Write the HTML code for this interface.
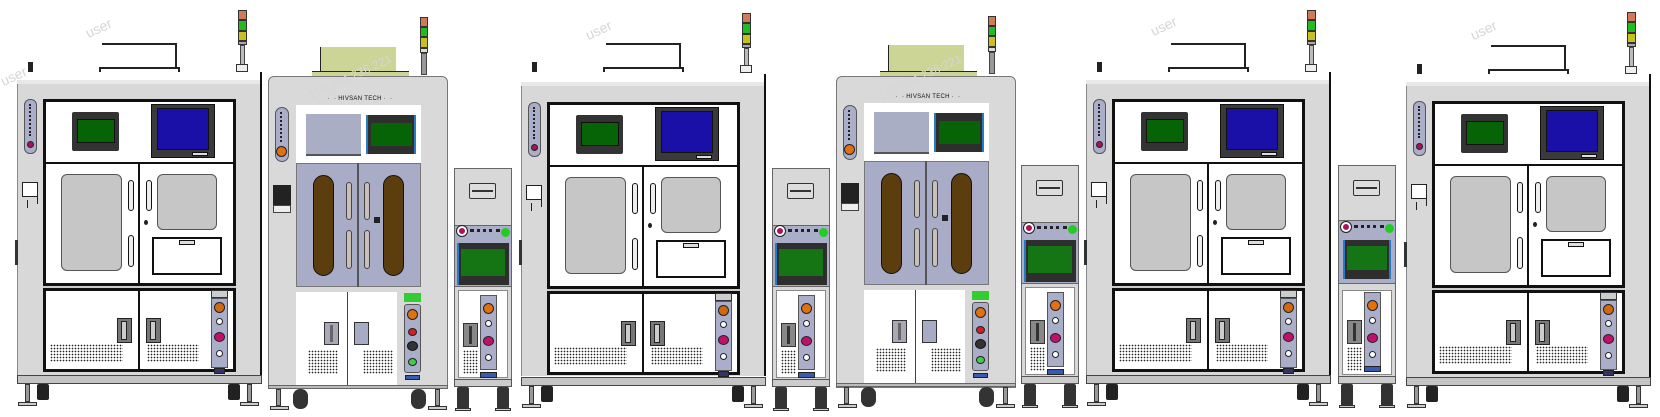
<!DOCTYPE html>
<html><head><meta charset="utf-8">
<style>
*{margin:0;padding:0;box-sizing:border-box}
body{width:1660px;height:417px;background:#fff;position:relative;overflow:hidden;font-family:"Liberation Sans",sans-serif}
.u{position:absolute;top:0;left:0;width:0;height:417px}
.u div{position:absolute}
.bk{border:1px solid #222}
.lav{background:#aaaec8;border:1px solid #555}
.vent{background-image:radial-gradient(#222 0.7px,transparent 0.9px);background-size:3px 3px}
.foot{width:4px;background:#999;border:1px solid #333}
.plate{height:4px;background:#ccc;border:1px solid #333}
.cast{background:#222;border-radius:2px}
.wm{position:absolute;color:#d6d6d6;font-size:14px;transform:rotate(-25deg);white-space:nowrap}
</style></head><body>

<!-- ========== A TEMPLATE (repeated) ========== -->
<div class="u" style="left:17px">
 <div style="left:85px;top:43px;width:75px;height:1.5px;background:#222"></div>
 <div style="left:158px;top:43px;width:1.5px;height:25px;background:#222"></div>
 <div style="left:82px;top:67px;width:80px;height:1.5px;background:#222"></div>
 <div style="left:82px;top:67px;width:1.5px;height:5px;background:#222"></div>
 <div style="left:161px;top:67px;width:1.5px;height:5px;background:#222"></div>
 <div style="left:11px;top:62px;width:5px;height:10px;background:#222"></div>
 <div style="left:221px;top:10px;width:9px;height:10px;background:#d07a5a;border:1px solid #333"></div>
 <div style="left:221px;top:20px;width:9px;height:11px;background:#22bb22;border:1px solid #333"></div>
 <div style="left:221px;top:31px;width:9px;height:10px;background:#c8c020;border:1px solid #333"></div>
 <div style="left:221px;top:41px;width:9px;height:4px;background:#aaa;border:1px solid #333"></div>
 <div style="left:223px;top:45px;width:5px;height:20px;background:#bbb;border:1px solid #444"></div>
 <div style="left:219px;top:64px;width:12px;height:8px;background:#eee;border:1px solid #333"></div>
 <div style="left:0;top:80px;width:244px;height:296px;background:#d8d8d8;border-left:1px solid #888"></div>
 <div style="left:0;top:80px;width:244px;height:4px;background:#e8e8e8"></div>
 <div style="left:243px;top:72px;width:2px;height:304px;background:#111"></div>
 <div style="left:-2px;top:240px;width:3px;height:25px;background:#333"></div>
 <div style="left:7px;top:99px;width:13px;height:55px;border-radius:6px" class="lav"></div>
 <div style="left:10px;top:141px;width:7px;height:7px;border-radius:50%;background:#b0105a;border:1px solid #222"></div>
 <div style="left:12px;top:104px;width:3px;height:32px;border-left:2px dotted #222"></div>
 <div style="left:5px;top:182px;width:16px;height:15px;background:#fff;border:1px solid #222"></div>
 <div style="left:20px;top:190px;width:1px;height:14px;background:#222"></div>
 <div style="left:10px;top:200px;width:1px;height:8px;background:#222"></div>
 <div style="left:26px;top:99px;width:193px;height:273px;background:#fff;border:3px solid #111"></div>
 <div style="left:26px;top:162px;width:193px;height:2px;background:#111"></div>
 <div style="left:26px;top:283px;width:193px;height:8px;background:#ccc;border-top:3px solid #111;border-bottom:3px solid #111"></div>
 <div style="left:121px;top:162px;width:2px;height:122px;background:#111"></div>
 <div style="left:121px;top:290px;width:2px;height:82px;background:#111"></div>
 <div style="left:55px;top:112px;width:47px;height:39px;background:#333;border-radius:2px"></div>
 <div style="left:60px;top:119px;width:38px;height:24px;background:#066406;border:1px solid #111"></div>
 <div style="left:134px;top:104px;width:64px;height:54px;background:#3a3a3a;border:1px solid #111"></div>
 <div style="left:140px;top:108px;width:52px;height:42px;background:#1a10a8;border:1px solid #111"></div>
 <div style="left:175px;top:152px;width:16px;height:4px;background:#ddd;border:1px solid #111"></div>
 <div style="left:44px;top:174px;width:61px;height:97px;background:#c6c6c6;border:1px solid #555;border-radius:6px"></div>
 <div style="left:140px;top:174px;width:60px;height:56px;background:#c6c6c6;border:1px solid #555;border-radius:6px"></div>
 <div style="left:135px;top:237px;width:70px;height:38px;background:#fff;border:2px solid #111"></div>
 <div style="left:162px;top:240px;width:16px;height:5px;background:#ddd;border:1px solid #111"></div>
 <div style="left:111px;top:180px;width:6px;height:31px;background:#eee;border:1px solid #111;border-radius:3px"></div>
 <div style="left:111px;top:235px;width:6px;height:32px;background:#eee;border:1px solid #111;border-radius:3px"></div>
 <div style="left:129px;top:180px;width:6px;height:31px;background:#eee;border:1px solid #111;border-radius:3px"></div>
 <div style="left:127px;top:220px;width:4px;height:5px;background:#222;border-radius:50%"></div>
 <div style="left:100px;top:318px;width:15px;height:25px;background:#777;border:1px solid #222"></div>
 <div style="left:104px;top:321px;width:6px;height:19px;background:#ccc;border:1px solid #222"></div>
 <div style="left:129px;top:318px;width:15px;height:25px;background:#777;border:1px solid #222"></div>
 <div style="left:133px;top:321px;width:6px;height:19px;background:#ccc;border:1px solid #222"></div>
 <div class="vent" style="left:33px;top:344px;width:73px;height:18px"></div>
 <div class="vent" style="left:130px;top:344px;width:52px;height:18px"></div>
 <div style="left:194px;top:290px;width:17px;height:8px;background:#ccc;border:1px solid #333"></div>
 <div class="lav" style="left:194px;top:298px;width:17px;height:70px"></div>
 <div style="left:197px;top:302px;width:11px;height:11px;border-radius:50%;background:#d06a10;border:1px solid #222"></div>
 <div style="left:199px;top:318px;width:7px;height:7px;border-radius:50%;background:#fff;border:1px solid #222"></div>
 <div style="left:197px;top:332px;width:11px;height:10px;border-radius:50%;background:#c0106a;border:1px solid #222"></div>
 <div style="left:199px;top:350px;width:7px;height:7px;border-radius:50%;background:#fff;border:1px solid #222"></div>
 <div style="left:197px;top:368px;width:11px;height:6px;background:#336;border:1px solid #222"></div>
 <div style="left:0;top:375px;width:245px;height:9px;background:#c4c4c4;border:1px solid #444"></div>
 <div style="left:8px;top:384px;width:5px;height:18px" class="foot"></div>
 <div style="left:1px;top:402px;width:19px" class="plate"></div>
 <div style="left:20px;top:384px;width:12px;height:16px" class="cast"></div>
 <div style="left:230px;top:384px;width:5px;height:18px" class="foot"></div>
 <div style="left:223px;top:402px;width:19px" class="plate"></div>
 <div style="left:211px;top:384px;width:12px;height:16px" class="cast"></div>
</div>

<div class="u" style="left:521px">
 <div style="left:85px;top:43px;width:75px;height:1.5px;background:#222"></div>
 <div style="left:158px;top:43px;width:1.5px;height:25px;background:#222"></div>
 <div style="left:82px;top:67px;width:80px;height:1.5px;background:#222"></div>
 <div style="left:82px;top:67px;width:1.5px;height:5px;background:#222"></div>
 <div style="left:161px;top:67px;width:1.5px;height:5px;background:#222"></div>
 <div style="left:11px;top:62px;width:5px;height:10px;background:#222"></div>
 <div style="left:221px;top:13px;width:9px;height:10px;background:#d07a5a;border:1px solid #333"></div>
 <div style="left:221px;top:23px;width:9px;height:11px;background:#22bb22;border:1px solid #333"></div>
 <div style="left:221px;top:34px;width:9px;height:10px;background:#c8c020;border:1px solid #333"></div>
 <div style="left:221px;top:44px;width:9px;height:4px;background:#aaa;border:1px solid #333"></div>
 <div style="left:223px;top:48px;width:5px;height:18px;background:#bbb;border:1px solid #444"></div>
 <div style="left:219px;top:65px;width:12px;height:8px;background:#eee;border:1px solid #333"></div>
 <div style="left:0;top:82px;width:244px;height:294px;background:#d8d8d8;border-left:1px solid #888"></div>
 <div style="left:0;top:82px;width:244px;height:4px;background:#e8e8e8"></div>
 <div style="left:243px;top:74px;width:2px;height:302px;background:#111"></div>
 <div style="left:-2px;top:240px;width:3px;height:25px;background:#333"></div>
 <div style="left:7px;top:102px;width:13px;height:55px;border-radius:6px" class="lav"></div>
 <div style="left:10px;top:144px;width:7px;height:7px;border-radius:50%;background:#b0105a;border:1px solid #222"></div>
 <div style="left:12px;top:107px;width:3px;height:32px;border-left:2px dotted #222"></div>
 <div style="left:5px;top:185px;width:16px;height:15px;background:#fff;border:1px solid #222"></div>
 <div style="left:20px;top:193px;width:1px;height:14px;background:#222"></div>
 <div style="left:10px;top:203px;width:1px;height:8px;background:#222"></div>
 <div style="left:26px;top:102px;width:193px;height:273px;background:#fff;border:3px solid #111"></div>
 <div style="left:26px;top:165px;width:193px;height:2px;background:#111"></div>
 <div style="left:26px;top:286px;width:193px;height:8px;background:#ccc;border-top:3px solid #111;border-bottom:3px solid #111"></div>
 <div style="left:121px;top:165px;width:2px;height:122px;background:#111"></div>
 <div style="left:121px;top:293px;width:2px;height:82px;background:#111"></div>
 <div style="left:55px;top:115px;width:47px;height:39px;background:#333;border-radius:2px"></div>
 <div style="left:60px;top:122px;width:38px;height:24px;background:#066406;border:1px solid #111"></div>
 <div style="left:134px;top:107px;width:64px;height:54px;background:#3a3a3a;border:1px solid #111"></div>
 <div style="left:140px;top:111px;width:52px;height:42px;background:#1a10a8;border:1px solid #111"></div>
 <div style="left:175px;top:155px;width:16px;height:4px;background:#ddd;border:1px solid #111"></div>
 <div style="left:44px;top:177px;width:61px;height:97px;background:#c6c6c6;border:1px solid #555;border-radius:6px"></div>
 <div style="left:140px;top:177px;width:60px;height:56px;background:#c6c6c6;border:1px solid #555;border-radius:6px"></div>
 <div style="left:135px;top:240px;width:70px;height:38px;background:#fff;border:2px solid #111"></div>
 <div style="left:162px;top:243px;width:16px;height:5px;background:#ddd;border:1px solid #111"></div>
 <div style="left:111px;top:183px;width:6px;height:31px;background:#eee;border:1px solid #111;border-radius:3px"></div>
 <div style="left:111px;top:238px;width:6px;height:32px;background:#eee;border:1px solid #111;border-radius:3px"></div>
 <div style="left:129px;top:183px;width:6px;height:31px;background:#eee;border:1px solid #111;border-radius:3px"></div>
 <div style="left:127px;top:223px;width:4px;height:5px;background:#222;border-radius:50%"></div>
 <div style="left:100px;top:321px;width:15px;height:25px;background:#777;border:1px solid #222"></div>
 <div style="left:104px;top:324px;width:6px;height:19px;background:#ccc;border:1px solid #222"></div>
 <div style="left:129px;top:321px;width:15px;height:25px;background:#777;border:1px solid #222"></div>
 <div style="left:133px;top:324px;width:6px;height:19px;background:#ccc;border:1px solid #222"></div>
 <div class="vent" style="left:33px;top:347px;width:73px;height:18px"></div>
 <div class="vent" style="left:130px;top:347px;width:52px;height:18px"></div>
 <div style="left:194px;top:293px;width:17px;height:8px;background:#ccc;border:1px solid #333"></div>
 <div class="lav" style="left:194px;top:301px;width:17px;height:70px"></div>
 <div style="left:197px;top:305px;width:11px;height:11px;border-radius:50%;background:#d06a10;border:1px solid #222"></div>
 <div style="left:199px;top:321px;width:7px;height:7px;border-radius:50%;background:#fff;border:1px solid #222"></div>
 <div style="left:197px;top:335px;width:11px;height:10px;border-radius:50%;background:#c0106a;border:1px solid #222"></div>
 <div style="left:199px;top:353px;width:7px;height:7px;border-radius:50%;background:#fff;border:1px solid #222"></div>
 <div style="left:197px;top:371px;width:11px;height:6px;background:#336;border:1px solid #222"></div>
 <div style="left:0;top:377px;width:245px;height:9px;background:#c4c4c4;border:1px solid #444"></div>
 <div style="left:8px;top:386px;width:5px;height:18px" class="foot"></div>
 <div style="left:1px;top:404px;width:19px" class="plate"></div>
 <div style="left:20px;top:386px;width:12px;height:16px" class="cast"></div>
 <div style="left:230px;top:386px;width:5px;height:18px" class="foot"></div>
 <div style="left:223px;top:404px;width:19px" class="plate"></div>
 <div style="left:211px;top:386px;width:12px;height:16px" class="cast"></div>
</div>

<div class="u" style="left:1086px">
 <div style="left:85px;top:43px;width:75px;height:1.5px;background:#222"></div>
 <div style="left:158px;top:43px;width:1.5px;height:25px;background:#222"></div>
 <div style="left:82px;top:67px;width:80px;height:1.5px;background:#222"></div>
 <div style="left:82px;top:67px;width:1.5px;height:5px;background:#222"></div>
 <div style="left:161px;top:67px;width:1.5px;height:5px;background:#222"></div>
 <div style="left:11px;top:62px;width:5px;height:10px;background:#222"></div>
 <div style="left:221px;top:10px;width:9px;height:10px;background:#d07a5a;border:1px solid #333"></div>
 <div style="left:221px;top:20px;width:9px;height:11px;background:#22bb22;border:1px solid #333"></div>
 <div style="left:221px;top:31px;width:9px;height:10px;background:#c8c020;border:1px solid #333"></div>
 <div style="left:221px;top:41px;width:9px;height:4px;background:#aaa;border:1px solid #333"></div>
 <div style="left:223px;top:45px;width:5px;height:20px;background:#bbb;border:1px solid #444"></div>
 <div style="left:219px;top:64px;width:12px;height:8px;background:#eee;border:1px solid #333"></div>
 <div style="left:0;top:80px;width:244px;height:296px;background:#d8d8d8;border-left:1px solid #888"></div>
 <div style="left:0;top:80px;width:244px;height:4px;background:#e8e8e8"></div>
 <div style="left:243px;top:72px;width:2px;height:304px;background:#111"></div>
 <div style="left:-2px;top:240px;width:3px;height:25px;background:#333"></div>
 <div style="left:7px;top:99px;width:13px;height:55px;border-radius:6px" class="lav"></div>
 <div style="left:10px;top:141px;width:7px;height:7px;border-radius:50%;background:#b0105a;border:1px solid #222"></div>
 <div style="left:12px;top:104px;width:3px;height:32px;border-left:2px dotted #222"></div>
 <div style="left:5px;top:182px;width:16px;height:15px;background:#fff;border:1px solid #222"></div>
 <div style="left:20px;top:190px;width:1px;height:14px;background:#222"></div>
 <div style="left:10px;top:200px;width:1px;height:8px;background:#222"></div>
 <div style="left:26px;top:99px;width:193px;height:273px;background:#fff;border:3px solid #111"></div>
 <div style="left:26px;top:162px;width:193px;height:2px;background:#111"></div>
 <div style="left:26px;top:283px;width:193px;height:8px;background:#ccc;border-top:3px solid #111;border-bottom:3px solid #111"></div>
 <div style="left:121px;top:162px;width:2px;height:122px;background:#111"></div>
 <div style="left:121px;top:290px;width:2px;height:82px;background:#111"></div>
 <div style="left:55px;top:112px;width:47px;height:39px;background:#333;border-radius:2px"></div>
 <div style="left:60px;top:119px;width:38px;height:24px;background:#066406;border:1px solid #111"></div>
 <div style="left:134px;top:104px;width:64px;height:54px;background:#3a3a3a;border:1px solid #111"></div>
 <div style="left:140px;top:108px;width:52px;height:42px;background:#1a10a8;border:1px solid #111"></div>
 <div style="left:175px;top:152px;width:16px;height:4px;background:#ddd;border:1px solid #111"></div>
 <div style="left:44px;top:174px;width:61px;height:97px;background:#c6c6c6;border:1px solid #555;border-radius:6px"></div>
 <div style="left:140px;top:174px;width:60px;height:56px;background:#c6c6c6;border:1px solid #555;border-radius:6px"></div>
 <div style="left:135px;top:237px;width:70px;height:38px;background:#fff;border:2px solid #111"></div>
 <div style="left:162px;top:240px;width:16px;height:5px;background:#ddd;border:1px solid #111"></div>
 <div style="left:111px;top:180px;width:6px;height:31px;background:#eee;border:1px solid #111;border-radius:3px"></div>
 <div style="left:111px;top:235px;width:6px;height:32px;background:#eee;border:1px solid #111;border-radius:3px"></div>
 <div style="left:129px;top:180px;width:6px;height:31px;background:#eee;border:1px solid #111;border-radius:3px"></div>
 <div style="left:127px;top:220px;width:4px;height:5px;background:#222;border-radius:50%"></div>
 <div style="left:100px;top:318px;width:15px;height:25px;background:#777;border:1px solid #222"></div>
 <div style="left:104px;top:321px;width:6px;height:19px;background:#ccc;border:1px solid #222"></div>
 <div style="left:129px;top:318px;width:15px;height:25px;background:#777;border:1px solid #222"></div>
 <div style="left:133px;top:321px;width:6px;height:19px;background:#ccc;border:1px solid #222"></div>
 <div class="vent" style="left:33px;top:344px;width:73px;height:18px"></div>
 <div class="vent" style="left:130px;top:344px;width:52px;height:18px"></div>
 <div style="left:194px;top:290px;width:17px;height:8px;background:#ccc;border:1px solid #333"></div>
 <div class="lav" style="left:194px;top:298px;width:17px;height:70px"></div>
 <div style="left:197px;top:302px;width:11px;height:11px;border-radius:50%;background:#d06a10;border:1px solid #222"></div>
 <div style="left:199px;top:318px;width:7px;height:7px;border-radius:50%;background:#fff;border:1px solid #222"></div>
 <div style="left:197px;top:332px;width:11px;height:10px;border-radius:50%;background:#c0106a;border:1px solid #222"></div>
 <div style="left:199px;top:350px;width:7px;height:7px;border-radius:50%;background:#fff;border:1px solid #222"></div>
 <div style="left:197px;top:368px;width:11px;height:6px;background:#336;border:1px solid #222"></div>
 <div style="left:0;top:375px;width:245px;height:9px;background:#c4c4c4;border:1px solid #444"></div>
 <div style="left:8px;top:384px;width:5px;height:18px" class="foot"></div>
 <div style="left:1px;top:402px;width:19px" class="plate"></div>
 <div style="left:20px;top:384px;width:12px;height:16px" class="cast"></div>
 <div style="left:230px;top:384px;width:5px;height:18px" class="foot"></div>
 <div style="left:223px;top:402px;width:19px" class="plate"></div>
 <div style="left:211px;top:384px;width:12px;height:16px" class="cast"></div>
</div>

<div class="u" style="left:1406px">
 <div style="left:85px;top:45px;width:75px;height:1.5px;background:#222"></div>
 <div style="left:158px;top:45px;width:1.5px;height:25px;background:#222"></div>
 <div style="left:82px;top:69px;width:80px;height:1.5px;background:#222"></div>
 <div style="left:82px;top:69px;width:1.5px;height:5px;background:#222"></div>
 <div style="left:161px;top:69px;width:1.5px;height:5px;background:#222"></div>
 <div style="left:11px;top:64px;width:5px;height:10px;background:#222"></div>
 <div style="left:221px;top:12px;width:9px;height:10px;background:#d07a5a;border:1px solid #333"></div>
 <div style="left:221px;top:22px;width:9px;height:11px;background:#22bb22;border:1px solid #333"></div>
 <div style="left:221px;top:33px;width:9px;height:10px;background:#c8c020;border:1px solid #333"></div>
 <div style="left:221px;top:43px;width:9px;height:4px;background:#aaa;border:1px solid #333"></div>
 <div style="left:223px;top:47px;width:5px;height:20px;background:#bbb;border:1px solid #444"></div>
 <div style="left:219px;top:66px;width:12px;height:8px;background:#eee;border:1px solid #333"></div>
 <div style="left:0;top:82px;width:244px;height:296px;background:#d8d8d8;border-left:1px solid #888"></div>
 <div style="left:0;top:82px;width:244px;height:4px;background:#e8e8e8"></div>
 <div style="left:243px;top:74px;width:2px;height:304px;background:#111"></div>
 <div style="left:-2px;top:242px;width:3px;height:25px;background:#333"></div>
 <div style="left:7px;top:101px;width:13px;height:55px;border-radius:6px" class="lav"></div>
 <div style="left:10px;top:143px;width:7px;height:7px;border-radius:50%;background:#b0105a;border:1px solid #222"></div>
 <div style="left:12px;top:106px;width:3px;height:32px;border-left:2px dotted #222"></div>
 <div style="left:5px;top:184px;width:16px;height:15px;background:#fff;border:1px solid #222"></div>
 <div style="left:20px;top:192px;width:1px;height:14px;background:#222"></div>
 <div style="left:10px;top:202px;width:1px;height:8px;background:#222"></div>
 <div style="left:26px;top:101px;width:193px;height:273px;background:#fff;border:3px solid #111"></div>
 <div style="left:26px;top:164px;width:193px;height:2px;background:#111"></div>
 <div style="left:26px;top:285px;width:193px;height:8px;background:#ccc;border-top:3px solid #111;border-bottom:3px solid #111"></div>
 <div style="left:121px;top:164px;width:2px;height:122px;background:#111"></div>
 <div style="left:121px;top:292px;width:2px;height:82px;background:#111"></div>
 <div style="left:55px;top:114px;width:47px;height:39px;background:#333;border-radius:2px"></div>
 <div style="left:60px;top:121px;width:38px;height:24px;background:#066406;border:1px solid #111"></div>
 <div style="left:134px;top:106px;width:64px;height:54px;background:#3a3a3a;border:1px solid #111"></div>
 <div style="left:140px;top:110px;width:52px;height:42px;background:#1a10a8;border:1px solid #111"></div>
 <div style="left:175px;top:154px;width:16px;height:4px;background:#ddd;border:1px solid #111"></div>
 <div style="left:44px;top:176px;width:61px;height:97px;background:#c6c6c6;border:1px solid #555;border-radius:6px"></div>
 <div style="left:140px;top:176px;width:60px;height:56px;background:#c6c6c6;border:1px solid #555;border-radius:6px"></div>
 <div style="left:135px;top:239px;width:70px;height:38px;background:#fff;border:2px solid #111"></div>
 <div style="left:162px;top:242px;width:16px;height:5px;background:#ddd;border:1px solid #111"></div>
 <div style="left:111px;top:182px;width:6px;height:31px;background:#eee;border:1px solid #111;border-radius:3px"></div>
 <div style="left:111px;top:237px;width:6px;height:32px;background:#eee;border:1px solid #111;border-radius:3px"></div>
 <div style="left:129px;top:182px;width:6px;height:31px;background:#eee;border:1px solid #111;border-radius:3px"></div>
 <div style="left:127px;top:222px;width:4px;height:5px;background:#222;border-radius:50%"></div>
 <div style="left:100px;top:320px;width:15px;height:25px;background:#777;border:1px solid #222"></div>
 <div style="left:104px;top:323px;width:6px;height:19px;background:#ccc;border:1px solid #222"></div>
 <div style="left:129px;top:320px;width:15px;height:25px;background:#777;border:1px solid #222"></div>
 <div style="left:133px;top:323px;width:6px;height:19px;background:#ccc;border:1px solid #222"></div>
 <div class="vent" style="left:33px;top:346px;width:73px;height:18px"></div>
 <div class="vent" style="left:130px;top:346px;width:52px;height:18px"></div>
 <div style="left:194px;top:292px;width:17px;height:8px;background:#ccc;border:1px solid #333"></div>
 <div class="lav" style="left:194px;top:300px;width:17px;height:70px"></div>
 <div style="left:197px;top:304px;width:11px;height:11px;border-radius:50%;background:#d06a10;border:1px solid #222"></div>
 <div style="left:199px;top:320px;width:7px;height:7px;border-radius:50%;background:#fff;border:1px solid #222"></div>
 <div style="left:197px;top:334px;width:11px;height:10px;border-radius:50%;background:#c0106a;border:1px solid #222"></div>
 <div style="left:199px;top:352px;width:7px;height:7px;border-radius:50%;background:#fff;border:1px solid #222"></div>
 <div style="left:197px;top:370px;width:11px;height:6px;background:#336;border:1px solid #222"></div>
 <div style="left:0;top:377px;width:245px;height:9px;background:#c4c4c4;border:1px solid #444"></div>
 <div style="left:8px;top:386px;width:5px;height:18px" class="foot"></div>
 <div style="left:1px;top:404px;width:19px" class="plate"></div>
 <div style="left:20px;top:386px;width:12px;height:16px" class="cast"></div>
 <div style="left:230px;top:386px;width:5px;height:18px" class="foot"></div>
 <div style="left:223px;top:404px;width:19px" class="plate"></div>
 <div style="left:211px;top:386px;width:12px;height:16px" class="cast"></div>
</div>

<!-- ========== B units ========== -->
<div class="u" style="left:268px">
 <div style="left:52px;top:47px;width:76px;height:25px;background:#ccd596;border-left:1px solid #222"></div>
 <div style="left:44px;top:71px;width:97px;height:5px;background:#ccd596;border-top:1.5px solid #222"></div>
 <div style="left:152px;top:17px;width:8px;height:10px;background:#d07a5a;border:1px solid #333"></div>
 <div style="left:152px;top:27px;width:8px;height:10px;background:#22bb22;border:1px solid #333"></div>
 <div style="left:152px;top:37px;width:8px;height:11px;background:#c8c020;border:1px solid #333"></div>
 <div style="left:152px;top:48px;width:8px;height:5px;background:#ddd;border:1px solid #333"></div>
 <div style="left:153px;top:53px;width:6px;height:22px;background:#999;border:1px solid #444"></div>
 <div style="left:0;top:76px;width:180px;height:312px;background:#d9d9d9;border:1px solid #777;border-radius:6px 6px 0 0"></div>
 <div style="left:52px;top:94px;width:80px;height:10px;font-size:6px;color:#111;text-align:center;letter-spacing:0.3px;line-height:10px">· &nbsp;· HIVSAN TECH · &nbsp;·</div>
 <div class="lav" style="left:7px;top:107px;width:14px;height:55px;border-radius:7px"></div>
 <div style="left:12px;top:112px;width:3px;height:30px;border-left:2px dotted #222"></div>
 <div style="left:8px;top:146px;width:11px;height:11px;border-radius:50%;background:#e07010;border:1px solid #222"></div>
 <div style="left:5px;top:185px;width:18px;height:20px;background:#222"></div>
 <div style="left:5px;top:205px;width:18px;height:8px;background:#eee;border:1px solid #444"></div>
 <div style="left:28px;top:105px;width:125px;height:58px;background:#fff"></div>
 <div style="left:38px;top:114px;width:55px;height:42px;background:#aaaec4;border-bottom:2px solid #555"></div>
 <div style="left:98px;top:115px;width:50px;height:39px;background:#2e2e2e;border-left:2px solid #2a7ac0;border-right:2px solid #2a7ac0"></div>
 <div style="left:103px;top:123px;width:41px;height:23px;background:#066406"></div>
 <div style="left:28px;top:163px;width:125px;height:124px;background:#a9acc6;border:1px solid #777"></div>
 <div style="left:89px;top:163px;width:1.5px;height:124px;background:#555"></div>
 <div style="left:45px;top:175px;width:21px;height:101px;background:#5b3d0e;border:1px solid #111;border-radius:11px"></div>
 <div style="left:115px;top:175px;width:21px;height:101px;background:#5b3d0e;border:1px solid #111;border-radius:11px"></div>
 <div style="left:78px;top:182px;width:6px;height:38px;background:#c8c0b8;border:1px solid #444;border-radius:3px"></div>
 <div style="left:78px;top:230px;width:6px;height:39px;background:#c8c0b8;border:1px solid #444;border-radius:3px"></div>
 <div style="left:96px;top:182px;width:6px;height:38px;background:#c8c0b8;border:1px solid #444;border-radius:3px"></div>
 <div style="left:96px;top:230px;width:6px;height:39px;background:#c8c0b8;border:1px solid #444;border-radius:3px"></div>
 <div style="left:106px;top:217px;width:6px;height:6px;background:#222"></div>
 <div style="left:28px;top:292px;width:101px;height:93px;background:#fff"></div>
 <div style="left:79px;top:292px;width:1px;height:93px;background:#444"></div>
 <div style="left:56px;top:322px;width:15px;height:23px;background:#a8a8b8;border:1px solid #333"></div>
 <div style="left:62px;top:325px;width:3px;height:17px;background:#666"></div>
 <div style="left:86px;top:322px;width:15px;height:23px;background:#a8abc4;border:1px solid #333"></div>
 <div class="vent" style="left:40px;top:350px;width:30px;height:24px"></div>
 <div class="vent" style="left:95px;top:350px;width:30px;height:24px"></div>
 <div style="left:136px;top:293px;width:17px;height:9px;background:#33cc33"></div>
 <div class="lav" style="left:136px;top:304px;width:17px;height:69px;border-radius:3px"></div>
 <div style="left:139px;top:309px;width:11px;height:11px;border-radius:50%;background:#e07010;border:1px solid #222"></div>
 <div style="left:140px;top:328px;width:9px;height:8px;border-radius:50%;background:#d02020;border:1px solid #222"></div>
 <div style="left:139px;top:341px;width:11px;height:10px;border-radius:50%;background:#333;border:1px solid #111"></div>
 <div style="left:140px;top:358px;width:9px;height:8px;border-radius:50%;background:#4c4;border:1px solid #222"></div>
 <div style="left:137px;top:375px;width:15px;height:5px;background:#3a5ab0;border:1px solid #222"></div>
 <div style="left:0;top:385px;width:180px;height:4px;background:#bbb;border:1px solid #666"></div>
 <div style="left:8px;top:389px;width:5px;height:17px" class="foot"></div>
 <div style="left:2px;top:406px;width:19px" class="plate"></div>
 <div style="left:25px;top:389px;width:15px;height:20px;background:#333;border-radius:7px"></div>
 <div style="left:167px;top:389px;width:5px;height:17px" class="foot"></div>
 <div style="left:160px;top:406px;width:19px" class="plate"></div>
 <div style="left:143px;top:389px;width:15px;height:20px;background:#333;border-radius:7px"></div>
</div>

<div class="u" style="left:836px">
 <div style="left:52px;top:45px;width:76px;height:27px;background:#ccd596;border-left:1px solid #222"></div>
 <div style="left:44px;top:71px;width:97px;height:5px;background:#ccd596;border-top:1.5px solid #222"></div>
 <div style="left:152px;top:16px;width:8px;height:10px;background:#d07a5a;border:1px solid #333"></div>
 <div style="left:152px;top:26px;width:8px;height:10px;background:#22bb22;border:1px solid #333"></div>
 <div style="left:152px;top:36px;width:8px;height:11px;background:#c8c020;border:1px solid #333"></div>
 <div style="left:152px;top:47px;width:8px;height:5px;background:#ddd;border:1px solid #333"></div>
 <div style="left:153px;top:52px;width:6px;height:22px;background:#999;border:1px solid #444"></div>
 <div style="left:0;top:76px;width:180px;height:312px;background:#d9d9d9;border:1px solid #777;border-radius:6px 6px 0 0"></div>
 <div style="left:52px;top:92px;width:80px;height:10px;font-size:6px;color:#111;text-align:center;letter-spacing:0.3px;line-height:10px">· &nbsp;· HIVSAN TECH · &nbsp;·</div>
 <div class="lav" style="left:7px;top:105px;width:14px;height:55px;border-radius:7px"></div>
 <div style="left:12px;top:110px;width:3px;height:30px;border-left:2px dotted #222"></div>
 <div style="left:8px;top:144px;width:11px;height:11px;border-radius:50%;background:#e07010;border:1px solid #222"></div>
 <div style="left:5px;top:183px;width:18px;height:20px;background:#222"></div>
 <div style="left:5px;top:203px;width:18px;height:8px;background:#eee;border:1px solid #444"></div>
 <div style="left:28px;top:103px;width:125px;height:58px;background:#fff"></div>
 <div style="left:38px;top:112px;width:55px;height:42px;background:#aaaec4;border-bottom:2px solid #555"></div>
 <div style="left:98px;top:113px;width:50px;height:39px;background:#2e2e2e;border-left:2px solid #2a7ac0;border-right:2px solid #2a7ac0"></div>
 <div style="left:103px;top:121px;width:41px;height:23px;background:#066406"></div>
 <div style="left:28px;top:161px;width:125px;height:124px;background:#a9acc6;border:1px solid #777"></div>
 <div style="left:89px;top:161px;width:1.5px;height:124px;background:#555"></div>
 <div style="left:45px;top:173px;width:21px;height:101px;background:#5b3d0e;border:1px solid #111;border-radius:11px"></div>
 <div style="left:115px;top:173px;width:21px;height:101px;background:#5b3d0e;border:1px solid #111;border-radius:11px"></div>
 <div style="left:78px;top:180px;width:6px;height:38px;background:#c8c0b8;border:1px solid #444;border-radius:3px"></div>
 <div style="left:78px;top:228px;width:6px;height:39px;background:#c8c0b8;border:1px solid #444;border-radius:3px"></div>
 <div style="left:96px;top:180px;width:6px;height:38px;background:#c8c0b8;border:1px solid #444;border-radius:3px"></div>
 <div style="left:96px;top:228px;width:6px;height:39px;background:#c8c0b8;border:1px solid #444;border-radius:3px"></div>
 <div style="left:106px;top:215px;width:6px;height:6px;background:#222"></div>
 <div style="left:28px;top:290px;width:101px;height:95px;background:#fff"></div>
 <div style="left:79px;top:290px;width:1px;height:95px;background:#444"></div>
 <div style="left:56px;top:320px;width:15px;height:23px;background:#a8a8b8;border:1px solid #333"></div>
 <div style="left:62px;top:323px;width:3px;height:17px;background:#666"></div>
 <div style="left:86px;top:320px;width:15px;height:23px;background:#a8abc4;border:1px solid #333"></div>
 <div class="vent" style="left:40px;top:348px;width:30px;height:24px"></div>
 <div class="vent" style="left:95px;top:348px;width:30px;height:24px"></div>
 <div style="left:136px;top:291px;width:17px;height:9px;background:#33cc33"></div>
 <div class="lav" style="left:136px;top:302px;width:17px;height:69px;border-radius:3px"></div>
 <div style="left:139px;top:307px;width:11px;height:11px;border-radius:50%;background:#e07010;border:1px solid #222"></div>
 <div style="left:140px;top:326px;width:9px;height:8px;border-radius:50%;background:#d02020;border:1px solid #222"></div>
 <div style="left:139px;top:339px;width:11px;height:10px;border-radius:50%;background:#333;border:1px solid #111"></div>
 <div style="left:140px;top:356px;width:9px;height:8px;border-radius:50%;background:#4c4;border:1px solid #222"></div>
 <div style="left:137px;top:373px;width:15px;height:5px;background:#3a5ab0;border:1px solid #222"></div>
 <div style="left:0;top:383px;width:180px;height:4px;background:#bbb;border:1px solid #666"></div>
 <div style="left:8px;top:387px;width:5px;height:17px" class="foot"></div>
 <div style="left:2px;top:404px;width:19px" class="plate"></div>
 <div style="left:25px;top:387px;width:15px;height:20px;background:#333;border-radius:7px"></div>
 <div style="left:167px;top:387px;width:5px;height:17px" class="foot"></div>
 <div style="left:160px;top:404px;width:19px" class="plate"></div>
 <div style="left:143px;top:387px;width:15px;height:20px;background:#333;border-radius:7px"></div>
</div>

<!-- ========== C units ========== -->
<div class="u" style="left:454px">
 <div style="left:0;top:168px;width:58px;height:212px;background:#d8d8d8;border:1px solid #666"></div>
 <div style="left:15px;top:183px;width:27px;height:16px;background:#ddd;border:1.5px solid #333;border-radius:2px"></div>
 <div style="left:18px;top:190px;width:21px;height:2px;background:#333"></div>
 <div style="left:0;top:225px;width:58px;height:62px;background:#aaaec8;border:1px solid #666"></div>
 <div style="left:3px;top:226px;width:10px;height:10px;border-radius:50%;background:#b0105a;border:2px solid #fff;outline:1px solid #222"></div>
 <div style="left:16px;top:229px;width:30px;height:6px;border-top:3px dotted #222"></div>
 <div style="left:47px;top:228px;width:9px;height:9px;border-radius:50%;background:#22cc22"></div>
 <div style="left:3px;top:243px;width:52px;height:42px;background:#2e2e2e;border-left:2px solid #2a7ac0"></div>
 <div style="left:7px;top:249px;width:44px;height:27px;background:#157515"></div>
 <div style="left:4px;top:290px;width:50px;height:88px;background:#fff;border:1px solid #888"></div>
 <div style="left:9px;top:323px;width:15px;height:24px;background:#888;border:1px solid #333"></div>
 <div style="left:15px;top:326px;width:3px;height:18px;background:#333"></div>
 <div class="vent" style="left:9px;top:350px;width:15px;height:24px"></div>
 <div class="lav" style="left:26px;top:295px;width:17px;height:75px"></div>
 <div style="left:29px;top:303px;width:11px;height:11px;border-radius:50%;background:#e07010;border:1px solid #222"></div>
 <div style="left:31px;top:320px;width:7px;height:7px;border-radius:50%;background:#fff;border:1px solid #222"></div>
 <div style="left:29px;top:336px;width:11px;height:10px;border-radius:50%;background:#c0106a;border:1px solid #222"></div>
 <div style="left:31px;top:354px;width:7px;height:7px;border-radius:50%;background:#fff;border:1px solid #222"></div>
 <div style="left:26px;top:372px;width:17px;height:6px;background:#3a5ab0;border:1px solid #222"></div>
 <div style="left:0;top:379px;width:58px;height:8px;background:#ccc;border:1px solid #555"></div>
 <div style="left:3px;top:387px;width:12px;height:22px;background:#333;border-radius:2px"></div>
 <div style="left:43px;top:387px;width:12px;height:22px;background:#333;border-radius:2px"></div>
 <div style="left:1px;top:408px;width:16px;height:3px;background:#ccc;border:1px solid #333"></div>
 <div style="left:41px;top:408px;width:16px;height:3px;background:#ccc;border:1px solid #333"></div>
</div>

<div class="u" style="left:772px">
 <div style="left:0;top:168px;width:58px;height:212px;background:#d8d8d8;border:1px solid #666"></div>
 <div style="left:15px;top:183px;width:27px;height:16px;background:#ddd;border:1.5px solid #333;border-radius:2px"></div>
 <div style="left:18px;top:190px;width:21px;height:2px;background:#333"></div>
 <div style="left:0;top:225px;width:58px;height:62px;background:#aaaec8;border:1px solid #666"></div>
 <div style="left:3px;top:226px;width:10px;height:10px;border-radius:50%;background:#b0105a;border:2px solid #fff;outline:1px solid #222"></div>
 <div style="left:16px;top:229px;width:30px;height:6px;border-top:3px dotted #222"></div>
 <div style="left:47px;top:228px;width:9px;height:9px;border-radius:50%;background:#22cc22"></div>
 <div style="left:3px;top:243px;width:52px;height:42px;background:#2e2e2e;border-left:2px solid #2a7ac0"></div>
 <div style="left:7px;top:249px;width:44px;height:27px;background:#157515"></div>
 <div style="left:4px;top:290px;width:50px;height:88px;background:#fff;border:1px solid #888"></div>
 <div style="left:9px;top:323px;width:15px;height:24px;background:#888;border:1px solid #333"></div>
 <div style="left:15px;top:326px;width:3px;height:18px;background:#333"></div>
 <div class="vent" style="left:9px;top:350px;width:15px;height:24px"></div>
 <div class="lav" style="left:26px;top:295px;width:17px;height:75px"></div>
 <div style="left:29px;top:303px;width:11px;height:11px;border-radius:50%;background:#e07010;border:1px solid #222"></div>
 <div style="left:31px;top:320px;width:7px;height:7px;border-radius:50%;background:#fff;border:1px solid #222"></div>
 <div style="left:29px;top:336px;width:11px;height:10px;border-radius:50%;background:#c0106a;border:1px solid #222"></div>
 <div style="left:31px;top:354px;width:7px;height:7px;border-radius:50%;background:#fff;border:1px solid #222"></div>
 <div style="left:26px;top:372px;width:17px;height:6px;background:#3a5ab0;border:1px solid #222"></div>
 <div style="left:0;top:379px;width:58px;height:8px;background:#ccc;border:1px solid #555"></div>
 <div style="left:3px;top:387px;width:12px;height:22px;background:#333;border-radius:2px"></div>
 <div style="left:43px;top:387px;width:12px;height:22px;background:#333;border-radius:2px"></div>
 <div style="left:1px;top:408px;width:16px;height:3px;background:#ccc;border:1px solid #333"></div>
 <div style="left:41px;top:408px;width:16px;height:3px;background:#ccc;border:1px solid #333"></div>
</div>

<div class="u" style="left:1021px">
 <div style="left:0;top:165px;width:58px;height:212px;background:#d8d8d8;border:1px solid #666"></div>
 <div style="left:15px;top:180px;width:27px;height:16px;background:#ddd;border:1.5px solid #333;border-radius:2px"></div>
 <div style="left:18px;top:187px;width:21px;height:2px;background:#333"></div>
 <div style="left:0;top:222px;width:58px;height:62px;background:#aaaec8;border:1px solid #666"></div>
 <div style="left:3px;top:223px;width:10px;height:10px;border-radius:50%;background:#b0105a;border:2px solid #fff;outline:1px solid #222"></div>
 <div style="left:16px;top:226px;width:30px;height:6px;border-top:3px dotted #222"></div>
 <div style="left:47px;top:225px;width:9px;height:9px;border-radius:50%;background:#22cc22"></div>
 <div style="left:3px;top:240px;width:52px;height:42px;background:#2e2e2e;border-left:2px solid #2a7ac0"></div>
 <div style="left:7px;top:246px;width:44px;height:27px;background:#157515"></div>
 <div style="left:4px;top:287px;width:50px;height:88px;background:#fff;border:1px solid #888"></div>
 <div style="left:9px;top:320px;width:15px;height:24px;background:#888;border:1px solid #333"></div>
 <div style="left:15px;top:323px;width:3px;height:18px;background:#333"></div>
 <div class="vent" style="left:9px;top:347px;width:15px;height:24px"></div>
 <div class="lav" style="left:26px;top:292px;width:17px;height:75px"></div>
 <div style="left:29px;top:300px;width:11px;height:11px;border-radius:50%;background:#e07010;border:1px solid #222"></div>
 <div style="left:31px;top:317px;width:7px;height:7px;border-radius:50%;background:#fff;border:1px solid #222"></div>
 <div style="left:29px;top:333px;width:11px;height:10px;border-radius:50%;background:#c0106a;border:1px solid #222"></div>
 <div style="left:31px;top:351px;width:7px;height:7px;border-radius:50%;background:#fff;border:1px solid #222"></div>
 <div style="left:26px;top:369px;width:17px;height:6px;background:#3a5ab0;border:1px solid #222"></div>
 <div style="left:0;top:376px;width:58px;height:8px;background:#ccc;border:1px solid #555"></div>
 <div style="left:3px;top:384px;width:12px;height:22px;background:#333;border-radius:2px"></div>
 <div style="left:43px;top:384px;width:12px;height:22px;background:#333;border-radius:2px"></div>
 <div style="left:1px;top:405px;width:16px;height:3px;background:#ccc;border:1px solid #333"></div>
 <div style="left:41px;top:405px;width:16px;height:3px;background:#ccc;border:1px solid #333"></div>
</div>

<div class="u" style="left:1338px">
 <div style="left:0;top:165px;width:58px;height:212px;background:#d8d8d8;border:1px solid #666"></div>
 <div style="left:15px;top:180px;width:27px;height:16px;background:#ddd;border:1.5px solid #333;border-radius:2px"></div>
 <div style="left:18px;top:187px;width:21px;height:2px;background:#333"></div>
 <div style="left:0;top:220px;width:58px;height:64px;background:#aaaec8;border:1px solid #666"></div>
 <div style="left:3px;top:222px;width:10px;height:10px;border-radius:50%;background:#b0105a;border:2px solid #fff;outline:1px solid #222"></div>
 <div style="left:16px;top:225px;width:30px;height:6px;border-top:3px dotted #222"></div>
 <div style="left:47px;top:224px;width:9px;height:9px;border-radius:50%;background:#22cc22"></div>
 <div style="left:5px;top:240px;width:48px;height:39px;background:#2e2e2e;border-left:2px solid #2a7ac0;border-right:2px solid #2a7ac0"></div>
 <div style="left:9px;top:246px;width:40px;height:24px;background:#157515"></div>
 <div style="left:4px;top:290px;width:50px;height:85px;background:#fff;border:1px solid #888"></div>
 <div style="left:9px;top:320px;width:15px;height:24px;background:#888;border:1px solid #333"></div>
 <div style="left:15px;top:323px;width:3px;height:18px;background:#333"></div>
 <div class="vent" style="left:9px;top:347px;width:15px;height:24px"></div>
 <div class="lav" style="left:26px;top:292px;width:17px;height:75px"></div>
 <div style="left:29px;top:300px;width:11px;height:11px;border-radius:50%;background:#e07010;border:1px solid #222"></div>
 <div style="left:31px;top:317px;width:7px;height:7px;border-radius:50%;background:#fff;border:1px solid #222"></div>
 <div style="left:29px;top:333px;width:11px;height:10px;border-radius:50%;background:#c0106a;border:1px solid #222"></div>
 <div style="left:31px;top:351px;width:7px;height:7px;border-radius:50%;background:#fff;border:1px solid #222"></div>
 <div style="left:26px;top:366px;width:17px;height:6px;background:#3a5ab0;border:1px solid #222"></div>
 <div style="left:0;top:376px;width:58px;height:8px;background:#ccc;border:1px solid #555"></div>
 <div style="left:3px;top:384px;width:12px;height:22px;background:#333;border-radius:2px"></div>
 <div style="left:43px;top:384px;width:12px;height:22px;background:#333;border-radius:2px"></div>
 <div style="left:1px;top:405px;width:16px;height:3px;background:#ccc;border:1px solid #333"></div>
 <div style="left:41px;top:405px;width:16px;height:3px;background:#ccc;border:1px solid #333"></div>
</div>

<!-- watermarks -->
<div class="wm" style="left:85px;top:20px">user</div>
<div class="wm" style="left:0;top:68px">user</div>
<div class="wm" style="left:585px;top:22px">user</div>
<div class="wm" style="left:1150px;top:18px">user</div>
<div class="wm" style="left:1470px;top:22px">user</div>
<div class="wm" style="left:305px;top:70px;font-size:12px">169.254.236.221</div>
<div class="wm" style="left:875px;top:70px;font-size:12px">169.254.236.221</div>
</body></html>
